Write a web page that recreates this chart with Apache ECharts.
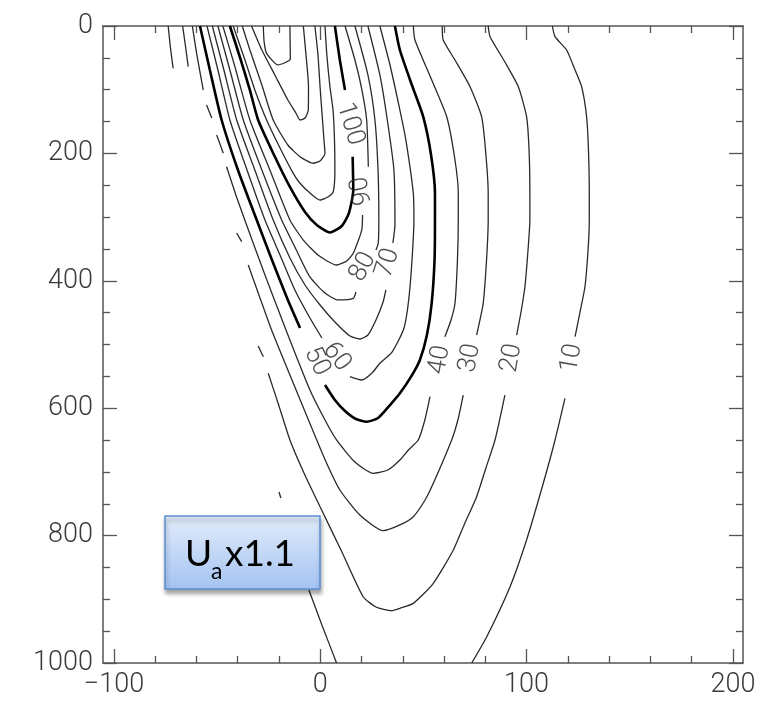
<!DOCTYPE html>
<html><head><meta charset="utf-8">
<script src="https://cdn.jsdelivr.net/npm/echarts@6/dist/echarts.min.js"></script>
<style>html,body{margin:0;padding:0;background:#fff}#c{width:763px;height:702px}</style>
</head><body><div id="c"></div>
<script>
// ---- axis ticks ----
const xMajor = [-100, 0, 100, 200];
const xMinor = [-80, -60, -40, -20, 20, 40, 60, 80, 120, 140, 160, 180];
const yMajor = [0, 200, 400, 600, 800, 1000];
const yMinor = [50, 100, 150, 250, 300, 350, 450, 500, 550, 650, 700, 750, 850, 900, 950];

// ---- contour lines [x, depth] (gaps where labels / masked) ----
const c140 = [[-27.6,0],[-27.2,25],[-26,43],[-20.5,61],[-14.5,52],[-14.6,25],[-14.7,0]];
const c130 = [[-33.3,0],[-28.3,37.7],[-22.0,76.9],[-15.7,116.2],[-11.8,136.6],[-9.8,147.6],[-7.4,144.4],[-5.8,131.9],[-5.7,95.3],[-6.9,45.5],[-8.2,0]];
const c120 = [[-37.8,0],[-34.1,37.7],[-28.3,92.6],[-22.8,147.6],[-15.7,186.8],[-9.8,205.2],[-3.4,215.5],[-0.1,211.9],[2.3,199.8],[1.8,179],[1.1,147.6],[-0.1,95.3],[-1.1,45.5],[-2.6,0]];
const c110 = [[-42.2,0],[-36.5,53.4],[-31.7,100.5],[-26,147.6],[-19.5,191.6],[-13.1,231.3],[-9.8,246.9],[-5.0,262.2],[-0.1,273.2],[3.7,268.4],[6.3,260.1],[7.1,226.1],[6.9,179],[6.2,131.9],[4.7,95.3],[3.2,45.5],[2.3,0]];
const c100a = [[-43.8,0],[-38.5,53.4],[-34.1,100.5],[-30.1,147.6],[-22.4,202.5],[-14.7,252.7],[-7.4,292],[-1.7,312.4],[4.7,324.2],[10.4,314],[13.9,293.6],[16.0,257.5],[15.7,205.2]];
const c100b = [[12.0,100.5],[9.5,53.4],[7.1,0]];
const c90a = [[-47.2,0],[-41.6,61.2],[-34.1,147.6],[-24.4,226.1],[-14.7,304.6],[-8.2,336],[-1.1,359.5],[7.9,375.2],[12.8,368.9],[16.0,356.8],[20.1,320.3],[20.5,296.7]];
const c90b = [[23.3,220.9],[22.5,147.6],[20.2,100.5],[16.8,53.4],[12.0,0]];
const c80a = [[-49.6,0],[-43.8,69.1],[-37.3,147.6],[-28.3,226.1],[-18.7,304.6],[-12.3,346.9],[-5.0,394],[2.3,419.2],[8.7,430.1],[16.0,427.5],[17.3,417.6]];
const c80b = [[27.0,351.6],[28.1,341.1],[28.4,304.6],[28.0,226.1],[26.5,147.6],[23.1,76.9],[16.8,0]];
const c70a = [[-52.3,0],[-46.7,69.1],[-40.5,147.6],[-31.7,226.1],[-22.8,304.6],[-14.7,364.2],[-7.4,406.6],[-0.1,438],[7.1,464.7],[14.4,486.7],[19.2,491.4],[23.1,485.1],[27.0,461.5],[30.5,432.8],[31.8,414.4]];
const c70b = [[35.2,340.7],[36.2,312.4],[35.7,226.1],[32.5,147.6],[28.9,76.9],[23.1,0]];
const c60a = [[-54.9,0],[-49.6,69.1],[-43.8,147.6],[-35.5,226.1],[-26.8,304.6],[-19.5,359.5],[-12.3,414.4],[-5.0,458.4],[0.8,489.8]];
const c60b = [[14.4,550.5],[20.1,555.7],[25.1,544.7],[28.9,529.5],[34.8,511.8],[40.6,474.1],[43.5,409.7],[45.4,304.6],[45.1,262.6],[41.5,179],[38.6,131.9],[33.8,61.2],[28.9,0]];
const c50a = [[-58.3,0],[-53.5,69.1],[-47.8,147.6],[-39.9,226.1],[-30.8,304.6],[-23.4,367.3],[-16.1,427],[-9.8,474.1]];
const c50b = [[2.3,563.6],[7.1,587.1],[12.0,604.4],[17.3,616.9],[22.5,621.2],[28.0,615.4],[33.8,595],[38.6,576.6],[44.4,548.4],[48.3,524.3],[51.7,485.1],[54.0,435.3],[55.4,367.3],[55.6,304.6],[55.6,262.6],[53.7,202.5],[49.9,142.4],[44.4,92.6],[38.6,37.7],[36.2,0]];
const c40a = [[-62.0,0],[-59.8,45.5],[-56.7,100.5]];
const c40b = [[-55.1,124],[-52.6,144.4]];
const c40c = [[-50.2,171.1],[-47.0,199.8]];
const c40d = [[-45.4,220.9],[-40.9,265.3],[-35.7,312.4],[-26.8,390.9],[-16.6,477.2],[-5.0,571.4],[2.3,618.5],[7.9,649.9],[16.8,684.5],[25.7,702.2],[32.8,697],[38.6,681.3],[42.7,665.6],[47.5,649.9],[50.7,618.5],[53.2,581.9]];
const c40e = [[60.4,487.8],[63.4,461.5],[65.3,435.3],[66.5,367.3],[66.9,304.6],[66.9,262.6],[65.3,210.4],[61.3,142.4],[53.2,78.5],[45.9,22],[45.1,0]];
const c30a = [[-66.7,0],[-65.4,29.8],[-64.0,63.9]];
const c30b = [[-40.5,325],[-38.1,338.6]];
const c30c = [[-34.9,375.2],[-29.2,427],[-23.6,477.2],[-12.7,563.6],[-1.7,649.9],[3.7,690.7],[9.5,728.4],[19.2,767.7],[30.5,792.3],[38.6,783.3],[45.1,770.3],[50.8,744.1],[54.8,717.9],[63.7,649.9],[66.7,618.5],[69.3,579.3]];
const c30d = [[75.8,485.1],[77.4,461.5],[79.0,435.3],[80.6,367.3],[81.4,304.6],[81.4,262.6],[80.1,194.7],[78.2,142.4],[72.6,95.3],[65.3,53.4],[59.6,22],[59.1,0]];
const c20a = [[-73.7,0],[-72.6,34.5],[-71.3,66.4]];
const c20b = [[-30.1,502.4],[-27.6,519.2]];
const c20c = [[-25.2,545.2],[-20.0,596.5],[-14.7,649.9],[-7.9,701.7],[-0.1,754.6],[10.5,825.8],[20.8,896],[27.0,912.1],[34.6,917.9],[38.6,914.1],[45.1,906.4],[54.8,874.9],[64.5,822.6],[70.1,780.2],[75.8,738.9],[80.3,693.9],[84.7,649.9],[89.5,579.3]];
const c20d = [[95.2,485.1],[97.3,449],[99.2,409.3],[100.7,351.6],[101.6,304.6],[101.6,262.6],[101.2,194.7],[100.0,142.4],[96.0,95.3],[89.5,56.5],[82.3,16.8],[81.4,0]];
const c10a = [[-20.0,731.6],[-19.1,741]];
const c10b = [[-5.5,885.4],[0.8,940.3],[7.9,1000]];
const c10c = [[73.4,1000],[80.7,958.7],[92.0,880.2],[100.0,806.9],[108.1,717.9],[113.8,649.9],[118.6,584.5]];
const c10d = [[123.5,487.8],[125.9,449],[128.3,409.3],[129.8,351.6],[130.4,304.6],[130.4,262.6],[130.0,194.7],[129.1,142.4],[126.7,95.3],[123.5,69.1],[119.4,37.7],[113.8,16.8],[112.5,0]];

const thinLines = [c140,c130,c120,c110,c90a,c90b,c80a,c80b,c70a,c70b,c60a,c60b,c40a,c40b,c40c,c40d,c40e,c30a,c30b,c30c,c30d,c20a,c20b,c20c,c20d,c10a,c10b,c10c,c10d];
const boldLines = [c100a,c100b,c50a,c50b];

// ---- contour labels ----
const labelText = ['100','90','80','70','60','50','40','30','20','10'];
const labelPos = [[14.4,153.8],[20.2,259],[20.7,378.3],[32.8,372],[7.9,519.6],[-1.8,526.7],[58.0,524.3],[72.6,521.2],[92.8,521.2],[121.9,521.2]];
const labelRot = [-73,100,62,72,-52,-64,80,80,80,80];

const axisColor = '#555';
const fmt = v => v < 0 ? '\u2212' + Math.abs(v) : String(v);
const lblStyle = {fontSize: 27, color: '#3a3a3a', fontFamily: 'Roboto, "Liberation Sans", sans-serif', fontWeight: 300};

function xAx(pos, vals, len, showLine, showLabel) {
  return {type:'value', min:-105.3, max:204.9, position:pos, gridIndex:0,
    axisLine:{show:showLine, onZero:false, lineStyle:{color:axisColor, width:1.5}},
    axisTick:{show:true, inside:true, length:len, customValues:vals, lineStyle:{color:axisColor, width:1.3}},
    axisLabel:{show:showLabel, customValues:vals, formatter:fmt, margin:9, ...lblStyle},
    splitLine:{show:false}};
}
function yAx(pos, vals, len, showLine, showLabel) {
  return {type:'value', min:0, max:1000, inverse:true, position:pos, gridIndex:0,
    axisLine:{show:showLine, onZero:false, lineStyle:{color:axisColor, width:1.5}},
    axisTick:{show:true, inside:true, length:len, customValues:vals, lineStyle:{color:axisColor, width:1.3}},
    axisLabel:{show:showLabel, customValues:vals, formatter:fmt, margin:10, ...lblStyle},
    splitLine:{show:false}};
}

const series = [];
thinLines.forEach(d => series.push({type:'line', data:d, symbol:'none', showSymbol:false, smooth:0.2,
  lineStyle:{color:'#2a2a2a', width:1.3}, silent:true, z:2}));
boldLines.forEach(d => series.push({type:'line', data:d, symbol:'none', showSymbol:false, smooth:0.2,
  lineStyle:{color:'#000', width:2.6}, silent:true, z:3}));
series.push({type:'scatter', symbolSize:1, itemStyle:{color:'rgba(0,0,0,0)'}, silent:true, z:4,
  data: labelText.map((t,i) => ({name:t, value:labelPos[i], label:{rotate:labelRot[i]}})),
  label:{show:true, position:'inside', formatter:'{b}', fontSize:26, color:'#222',
    fontFamily:'Roboto, "Liberation Sans", sans-serif', fontWeight:300}});

const chart = echarts.init(document.getElementById('c'), null, {renderer:'canvas'});
chart.setOption({
  animation:false,
  backgroundColor:'#fff',
  grid:{left:103, right:20, top:26, bottom:39, containLabel:false},
  xAxis:[xAx('bottom', xMajor, 14, true, true), xAx('bottom', xMinor, 7, false, false),
         xAx('top', xMajor, 14, true, false), xAx('top', xMinor, 7, false, false)],
  yAxis:[yAx('left', yMajor, 14, true, true), yAx('left', yMinor, 7, false, false),
         yAx('right', yMajor, 14, true, false), yAx('right', yMinor, 7, false, false)],
  series: series,
  graphic:[
    {type:'rect', z:100, x:165, y:516, shape:{x:0, y:0, width:155, height:73},
     style:{fill:{type:'linear', x:0, y:0, x2:0, y2:1, colorStops:[{offset:0,color:'#e2ecfa'},{offset:1,color:'#a4c3f1'}]},
            stroke:'#5b8fd3', lineWidth:1.5, shadowBlur:4, shadowOffsetX:1, shadowOffsetY:4, shadowColor:'rgba(0,0,0,0.35)'}},
    {type:'text', z:101, x:185, y:554, style:{text:'U', font:'37px Lato, "Open Sans", sans-serif', fill:'#000', verticalAlign:'middle', align:'left'}},
    {type:'text', z:101, x:211, y:572, style:{text:'a', font:'23px Lato, "Open Sans", sans-serif', fill:'#000', verticalAlign:'middle', align:'left'}},
    {type:'text', z:101, x:225, y:554, style:{text:'x1.1', font:'37px Lato, "Open Sans", sans-serif', fill:'#000', verticalAlign:'middle', align:'left'}}
  ]
});
</script></body></html>
